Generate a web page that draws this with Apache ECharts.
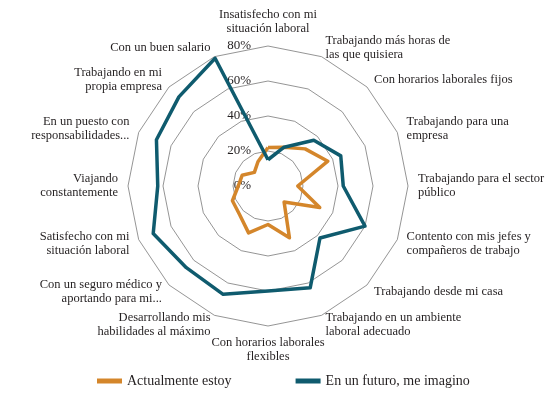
<!DOCTYPE html>
<html>
<head>
<meta charset="utf-8">
<script src="https://cdn.jsdelivr.net/npm/echarts@6/dist/echarts.min.js"></script>
<style>
  html, body { margin: 0; padding: 0; background: #fff; }
  #main { width: 554px; height: 398px; }
</style>
</head>
<body>
<div id="main"></div>
<script>
// categories listed clockwise from the top
var categories = [
    'Insatisfecho con mi\nsituación laboral',
    'Trabajando más horas de\nlas que quisiera',
    'Con horarios laborales fijos',
    'Trabajando para una\nempresa',
    'Trabajando para el sector\npúblico',
    'Contento con mis jefes y\ncompañeros de trabajo',
    'Trabajando desde mi casa',
    'Trabajando en un ambiente\nlaboral adecuado',
    'Con horarios laborales\nflexibles',
    'Desarrollando mis\nhabilidades al máximo',
    'Con un seguro médico y\naportando para mi...',
    'Satisfecho con mi\nsituación laboral',
    'Viajando\nconstantemente',
    'En un puesto con\nresponsabilidades...',
    'Trabajando en mi\npropia empresa',
    'Con un buen salario'
];
var seriesNames = ['Actualmente estoy', 'En un futuro, me imagino'];
var actual = [22, 24, 30, 37, 17, 32, 13, 32, 22, 29, 23, 22, 17, 16, 11, 15];
var futuro = [15, 24, 37, 45, 43, 60, 42, 63, 60, 67, 66, 71, 63, 69, 72, 79];
var maxValue = 80;

// echarts radar runs counter-clockwise, so keep the first item and flip the rest
function clockwise(arr) {
    return [arr[0]].concat(arr.slice(1).reverse());
}

var serif = '"Liberation Serif", "DejaVu Serif", serif';
var chart = echarts.init(document.getElementById('main'));

var option = {
    backgroundColor: '#fff',
    textStyle: { fontFamily: serif },
    legend: {
        bottom: 5,
        left: 92,
        itemWidth: 25,
        itemHeight: 5,
        itemGap: 64,
        icon: 'rect',
        textStyle: { fontFamily: serif, fontSize: 14, color: '#231f20' },
        data: seriesNames
    },
    radar: {
        center: [268, 186],
        radius: 140,
        startAngle: 90,
        shape: 'polygon',
        splitNumber: 4,
        nameGap: 10,
        axisName: { color: '#231f20', fontFamily: serif, fontSize: 12.5, lineHeight: 14 },
        axisLine: { show: false },
        splitLine: { lineStyle: { color: '#7a7a7a', width: 0.8 } },
        splitArea: { show: false },
        indicator: clockwise(categories).map(function (c) { return { name: c, min: 0, max: maxValue }; })
    },
    polar: { center: [268, 186], radius: 140 },
    angleAxis: { show: false, startAngle: 90, min: 0, max: 360 },
    radiusAxis: {
        min: 0,
        max: maxValue,
        interval: 20,
        axisLine: { show: false },
        axisTick: { show: false },
        splitLine: { show: false },
        axisLabel: { formatter: '{value}%', fontFamily: serif, fontSize: 13, color: '#231f20', margin: 17 }
    },
    series: [{
        type: 'radar',
        symbol: 'none',
        silent: true,
        data: [
            { name: seriesNames[0], value: clockwise(actual),
              lineStyle: { color: '#d4862b', width: 3.5 }, itemStyle: { color: '#d4862b' } },
            { name: seriesNames[1], value: clockwise(futuro),
              lineStyle: { color: '#0f5b6e', width: 3.5 }, itemStyle: { color: '#0f5b6e' } }
        ]
    }]
};

chart.setOption(option);
</script>
</body>
</html>
